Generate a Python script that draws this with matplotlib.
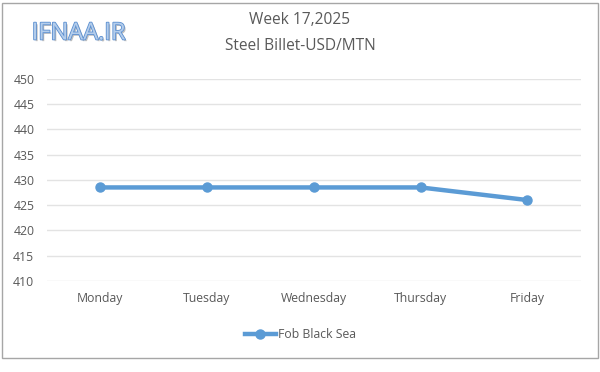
import matplotlib
matplotlib.use('Agg')
import matplotlib.pyplot as plt
from matplotlib.patches import Rectangle
import matplotlib.patheffects as pe

days = ['Monday', 'Tuesday', 'Wednesday', 'Thursday', 'Friday']
fob_black_sea = [428.5, 428.5, 428.5, 428.5, 426]
y_ticks = [410, 415, 420, 425, 430, 435, 440, 445, 450]

plt.rcParams['font.family'] = ['Open Sans', 'DejaVu Sans']

fig = plt.figure(figsize=(6, 3.72), dpi=100)
ax = fig.add_axes([0.078, 0.245, 0.89, 0.543])

x = range(len(days))
ax.plot(x, fob_black_sea, color='#5B9BD5', lw=3.2, marker='o', ms=6.5,
        label='Fob Black Sea', zorder=3)

ax.set_xlim(-0.5, len(days) - 0.5)
ax.set_ylim(410, 450)
ax.set_yticks(y_ticks)
ax.set_xticks(list(x))
ax.set_xticklabels(days)
ax.grid(axis='y', color='#E3E3E3', lw=1)
ax.set_axisbelow(True)
for s in ax.spines.values():
    s.set_visible(False)
ax.tick_params(length=0, colors='#595959', labelsize=8.8)
ax.tick_params(axis='x', pad=8)
ax.tick_params(axis='y', pad=9)

fig.text(0.5, 0.945, 'Week 17,2025', ha='center', va='center',
         fontsize=11.2, color='#595959')
fig.text(0.5, 0.875, 'Steel Billet-USD/MTN', ha='center', va='center',
         fontsize=11.2, color='#595959')

fig.text(0.131, 0.91, 'IFNAA.IR', ha='center', va='center', fontsize=17,
         color='#B4CDEB',
         path_effects=[pe.withSimplePatchShadow(offset=(1.2, -1.2), shadow_rgbFace='#808080', alpha=0.5),
                       pe.Stroke(linewidth=1.2, foreground='#5B8FD0'), pe.Normal()])

leg = fig.legend(loc='center', bbox_to_anchor=(0.5, 0.1), frameon=False,
                 fontsize=8.8, handlelength=2.6, handletextpad=0.1)
for t in leg.get_texts():
    t.set_color('#595959')

fig.patches.append(Rectangle((0.004, 0.038), 0.992, 0.955, transform=fig.transFigure,
                             fill=False, edgecolor='#A6A6A6', lw=1))

fig.savefig('out.png', dpi=100)
